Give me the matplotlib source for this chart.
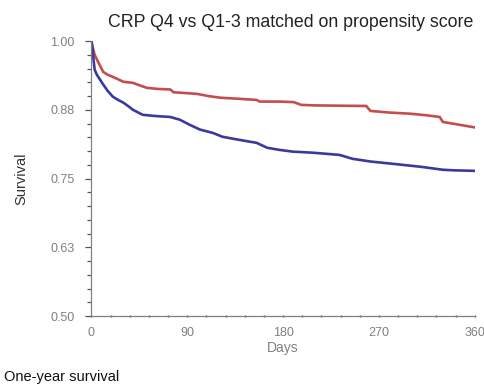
import matplotlib
matplotlib.use("Agg")
import matplotlib.pyplot as plt
from matplotlib.ticker import MultipleLocator

# Q1-3 (red)
red_days = [0, 1, 3, 6, 11, 15, 20, 30, 39, 46, 52, 62, 74, 77, 99, 110, 121, 139, 155, 158, 177, 190, 197, 210, 258, 262, 280, 299, 315, 327, 330, 345, 360]
red_surv = [1.0, 0.99, 0.975, 0.963, 0.944, 0.939, 0.935, 0.926, 0.924, 0.919, 0.915, 0.913, 0.912, 0.907, 0.904, 0.900, 0.897, 0.895, 0.893, 0.890, 0.890, 0.889, 0.884, 0.883, 0.882, 0.873, 0.870, 0.868, 0.865, 0.862, 0.853, 0.848, 0.843]

# Q4 (blue)
blue_days = [0, 1, 2, 3, 5, 8, 11, 15, 20, 25, 30, 35, 39, 48, 58, 74, 83, 92, 102, 114, 123, 137, 155, 165, 177, 189, 208, 233, 245, 262, 292, 311, 330, 340, 360]
blue_surv = [1.0, 0.985, 0.965, 0.948, 0.939, 0.930, 0.921, 0.910, 0.899, 0.893, 0.888, 0.881, 0.875, 0.866, 0.864, 0.862, 0.857, 0.848, 0.839, 0.833, 0.826, 0.821, 0.815, 0.806, 0.802, 0.799, 0.797, 0.793, 0.786, 0.781, 0.775, 0.771, 0.766, 0.765, 0.764]

y_ticks = [0.50, 0.625, 0.75, 0.875, 1.00]
y_labels = ["0.50", "0.63", "0.75", "0.88", "1.00"]
x_ticks = [0, 90, 180, 270, 360]
x_labels = ["0", "90", "180", "270", "360"]

plt.rcParams["font.family"] = ["Liberation Sans", "DejaVu Sans"]
tick_font = ["Liberation Sans Narrow", "Liberation Sans", "DejaVu Sans"]

fig = plt.figure(figsize=(4.84, 3.84), dpi=100)
ax = fig.add_axes([0.189, 0.177, 0.792, 0.716])

ax.plot(red_days, red_surv, color="#c44e4e", lw=1.9, solid_joinstyle="miter")
ax.plot(blue_days, blue_surv, color="#3b3a9c", lw=1.9, solid_joinstyle="miter")

ax.set_xlim(0, 360)
ax.set_ylim(0.50, 1.00)
ax.set_yticks(y_ticks)
ax.set_yticklabels(y_labels, family=tick_font)
ax.set_xticks(x_ticks)
ax.set_xticklabels(x_labels, family=tick_font)
ax.yaxis.set_minor_locator(MultipleLocator(0.025))
ax.xaxis.set_minor_locator(MultipleLocator(18))

for s in ["top", "right"]:
    ax.spines[s].set_visible(False)
for s in ["left", "bottom"]:
    ax.spines[s].set_color("#808080")
    ax.spines[s].set_linewidth(0.9)

ax.tick_params(axis="y", which="major", length=4, width=0.9, color="#555555",
               labelsize=9, labelcolor="#808080", pad=8)
ax.tick_params(axis="y", which="minor", length=3, width=0.9, color="#555555")
ax.tick_params(axis="x", which="major", length=2, width=1.0, color="#555555", direction="inout",
               labelsize=9, labelcolor="#808080", pad=7)
ax.tick_params(axis="x", which="minor", length=2, width=1.0, color="#555555", direction="inout")

ax.set_title("CRP Q4 vs Q1-3 matched on propensity score", fontsize=12.8, color="#222222", pad=10, x=0.52)
ax.set_ylabel("Survival", fontsize=10.5, color="#333333", labelpad=16)
ax.set_xlabel("Days", fontsize=10, color="#808080", labelpad=1)

fig.text(4 / 484, 2.5 / 384, "One-year survival", fontsize=10.5, color="#111111", ha="left", va="baseline")

fig.savefig("out.png", dpi=100)
